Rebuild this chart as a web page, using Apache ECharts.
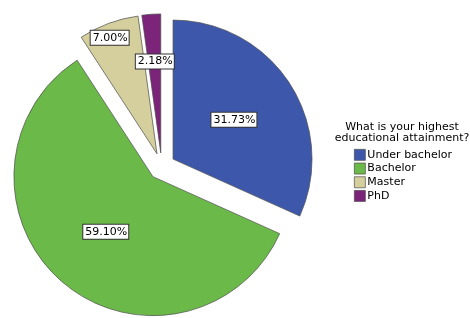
<!DOCTYPE html>
<html>
<head>
<meta charset="utf-8">
<script src="https://cdn.jsdelivr.net/npm/echarts@6/dist/echarts.min.js"></script>
<style>
html, body { margin: 0; padding: 0; background: #fff; }
#chart { width: 470px; height: 318px; }
</style>
</head>
<body>
<div id="chart"></div>
<script>
var myChart = echarts.init(document.getElementById('chart'));

var categories = ['Under bachelor', 'Bachelor', 'Master', 'PhD'];
var values = [31.73, 59.10, 7.00, 2.18];
var colors = ['#3D58AB', '#6BB948', '#D5CF9E', '#7B2479'];
// small slices carry their label further out, like the original
var labelOffsets = [[0, 0], [0, 0], [-22, -48], [-1, -19]];

var fontFamily = 'DejaVu Sans';
var edgeColor = '#4a4a4a';

var data = categories.map(function (name, i) {
    return {
        name: name,
        value: values[i],
        selected: true,
        itemStyle: { color: colors[i] }
    };
});

option = {
    backgroundColor: '#fff',
    animation: false,
    title: {
        text: 'What is your highest\neducational attainment?',
        left: 402,
        top: 121,
        padding: 0,
        textAlign: 'center',
        textStyle: {
            fontFamily: fontFamily,
            fontSize: 11,
            fontWeight: 'normal',
            color: '#000',
            lineHeight: 11.5
        }
    },
    legend: {
        orient: 'vertical',
        left: 354,
        top: 149,
        padding: 0,
        itemWidth: 11,
        itemHeight: 11,
        itemGap: 2,
        selectedMode: false,
        icon: 'rect',
        textStyle: {
            fontFamily: fontFamily,
            fontSize: 11,
            color: '#000',
            padding: [0, 0, 0, -3]
        },
        itemStyle: {
            borderColor: edgeColor,
            borderWidth: 0.7
        },
        data: categories
    },
    series: [{
        type: 'pie',
        center: [161.7, 166.4],
        radius: [0, 139],
        startAngle: 90,
        clockwise: true,
        selectedMode: 'multiple',
        selectedOffset: 13.5,
        avoidLabelOverlap: false,
        data: data,
        itemStyle: {
            borderColor: edgeColor,
            borderWidth: 0.7
        },
        label: {
            position: 'inside',
            formatter: function (p) {
                return p.value.toFixed(2) + '%';
            },
            fontFamily: fontFamily,
            fontSize: 11,
            color: '#000',
            backgroundColor: '#fff',
            borderColor: '#333',
            borderWidth: 1,
            padding: [2, 1, 1, 2]
        },
        labelLayout: function (p) {
            var off = labelOffsets[p.dataIndex];
            return { dx: off[0], dy: off[1] };
        },
        labelLine: { show: false },
        emphasis: { disabled: true },
        select: {
            itemStyle: {
                borderColor: edgeColor,
                borderWidth: 0.7
            }
        }
    }]
};
myChart.setOption(option);
</script>
</body>
</html>
